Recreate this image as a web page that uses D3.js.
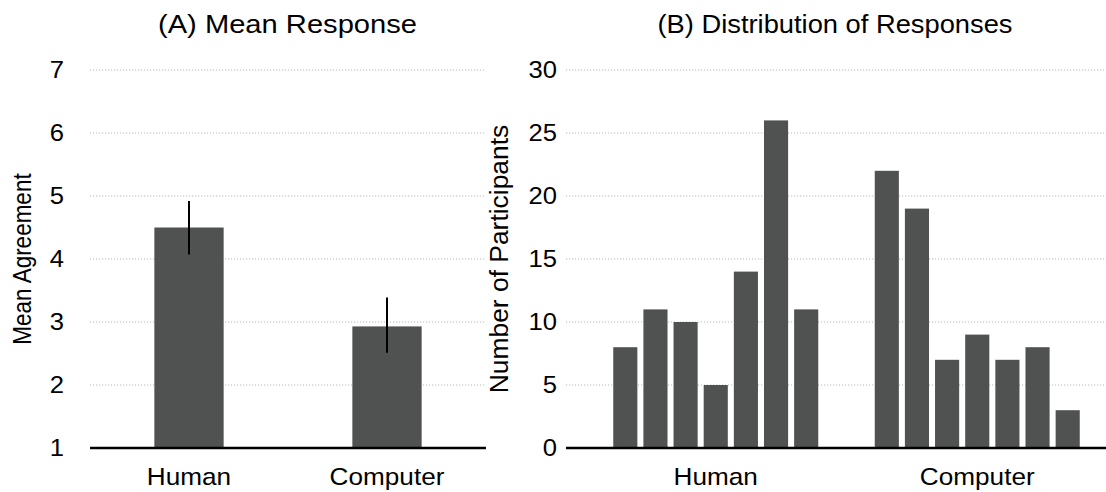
<!DOCTYPE html>
<html>
<head>
<meta charset="utf-8">
<script src="https://cdn.jsdelivr.net/npm/d3@7"></script>
<style>
  html, body { margin: 0; padding: 0; background: #fff; }
  svg { display: block; font-family: "Liberation Sans", Helvetica, Arial, sans-serif; }
</style>
</head>
<body>
<svg id="chart" width="1106" height="492"></svg>
<script>
// ---- Data ----
const groups = ["Human", "Computer"];
const meanAgreement = [4.5, 2.93];
const errorLow = [4.07, 2.51];
const errorHigh = [4.92, 3.39];
const responseLevels = [1, 2, 3, 4, 5, 6, 7];
const humanCounts = [8, 11, 10, 5, 14, 26, 11];
const computerCounts = [22, 19, 7, 9, 7, 8, 3];
const ticksA = [1, 2, 3, 4, 5, 6, 7];
const ticksB = [0, 5, 10, 15, 20, 25, 30];

const barColor = "#505251";
const gridColor = "#b8b8b8";
const SX = 1.09; // horizontal glyph stretch seen in the reference
const svg = d3.select("#chart");

function styleYTicks(sel) {
  sel.select(".domain").remove();
  sel.selectAll("text").attr("font-size", 23.5).attr("fill", "#000")
    .attr("font-family", null).attr("transform", `scale(${SX},1)`);
}
function styleXTicks(sel) {
  sel.select(".domain").remove();
  sel.selectAll("text").attr("font-size", 24).attr("fill", "#000")
    .attr("font-family", null).attr("transform", `scale(${SX},1)`);
}

// ---- Panel A ----
const A = { left: 90, right: 486, top: 70, bottom: 448 };
const yA = d3.scaleLinear().domain([1, 7]).range([A.bottom, A.top]);
const xA = d3.scaleBand().domain(groups).range([A.left, A.right]).padding(0);
const gA = svg.append("g");

gA.append("g").selectAll("line").data(ticksA.filter(t => t !== 1)).join("line")
  .attr("x1", A.left).attr("x2", A.right)
  .attr("y1", d => yA(d)).attr("y2", d => yA(d))
  .attr("stroke", gridColor).attr("stroke-width", 1).attr("stroke-dasharray", "1.2,1.8");

gA.append("g").attr("transform", `translate(${A.left},0)`)
  .call(d3.axisLeft(yA).tickValues(ticksA).tickFormat(d3.format("d")).tickSize(0).tickPadding(26 / SX))
  .call(styleYTicks);

const bwA = xA.bandwidth() * 0.35;
const meanData = groups.map((g, i) => ({ g, v: meanAgreement[i], lo: errorLow[i], hi: errorHigh[i] }));
gA.append("g").selectAll("rect").data(meanData).join("rect")
  .attr("x", d => xA(d.g) + xA.bandwidth() / 2 - bwA / 2)
  .attr("width", bwA)
  .attr("y", d => yA(d.v))
  .attr("height", d => yA(1) - yA(d.v))
  .attr("fill", barColor);

gA.append("g").selectAll("line").data(meanData).join("line")
  .attr("x1", d => xA(d.g) + xA.bandwidth() / 2)
  .attr("x2", d => xA(d.g) + xA.bandwidth() / 2)
  .attr("y1", d => yA(d.lo)).attr("y2", d => yA(d.hi))
  .attr("stroke", "#000").attr("stroke-width", 2);

gA.append("line").attr("x1", A.left).attr("x2", A.right)
  .attr("y1", yA(1)).attr("y2", yA(1))
  .attr("stroke", "#000").attr("stroke-width", 2.5);

gA.append("g").attr("transform", `translate(0,${A.bottom})`)
  .call(d3.axisBottom(xA).tickSize(0).tickPadding(20))
  .call(styleXTicks);

gA.append("text").attr("x", 287.5).attr("y", 33)
  .attr("text-anchor", "middle").attr("font-size", 26.5)
  .attr("textLength", 259).attr("lengthAdjust", "spacingAndGlyphs")
  .text("(A) Mean Response");

gA.append("text")
  .attr("transform", `translate(31,${(A.top + A.bottom) / 2}) rotate(-90) scale(1,1.15)`)
  .attr("text-anchor", "middle").attr("font-size", 22.5).text("Mean Agreement");

// ---- Panel B ----
const B = { left: 566, right: 1106, top: 70, bottom: 448 };
const yB = d3.scaleLinear().domain([0, 30]).range([B.bottom, B.top]);
const xB0 = d3.scaleBand().domain(groups).range([585, 1108]).padding(0);
const groupW = xB0.bandwidth() * 0.807;
const xB1 = d3.scaleBand().domain(responseLevels).range([0, groupW]).paddingInner(0.2).paddingOuter(0.1);
const gB = svg.append("g");

gB.append("g").selectAll("line").data(ticksB.filter(t => t !== 0)).join("line")
  .attr("x1", B.left).attr("x2", B.right)
  .attr("y1", d => yB(d)).attr("y2", d => yB(d))
  .attr("stroke", gridColor).attr("stroke-width", 1).attr("stroke-dasharray", "1.2,1.8");

gB.append("g").attr("transform", `translate(${B.left},0)`)
  .call(d3.axisLeft(yB).tickValues(ticksB).tickFormat(d3.format("d")).tickSize(0).tickPadding(9 / SX))
  .call(styleYTicks);

const countData = [];
groups.forEach((g, gi) => {
  const arr = gi === 0 ? humanCounts : computerCounts;
  responseLevels.forEach((r, ri) => countData.push({ g, r, v: arr[ri] }));
});
gB.append("g").selectAll("rect").data(countData).join("rect")
  .attr("x", d => xB0(d.g) + (xB0.bandwidth() - groupW) / 2 + xB1(d.r))
  .attr("width", xB1.bandwidth())
  .attr("y", d => yB(d.v))
  .attr("height", d => yB(0) - yB(d.v))
  .attr("fill", barColor);

gB.append("line").attr("x1", B.left).attr("x2", B.right)
  .attr("y1", yB(0)).attr("y2", yB(0))
  .attr("stroke", "#000").attr("stroke-width", 2.5);

gB.append("g").attr("transform", `translate(0,${B.bottom})`)
  .call(d3.axisBottom(xB0).tickSize(0).tickPadding(20))
  .call(styleXTicks);

gB.append("text").attr("x", 835).attr("y", 33)
  .attr("text-anchor", "middle").attr("font-size", 26.5)
  .attr("textLength", 355).attr("lengthAdjust", "spacingAndGlyphs")
  .text("(B) Distribution of Responses");

gB.append("text")
  .attr("transform", `translate(508,${(B.top + B.bottom) / 2}) rotate(-90)`)
  .attr("text-anchor", "middle").attr("font-size", 26.4).text("Number of Participants");
</script>
</body>
</html>
